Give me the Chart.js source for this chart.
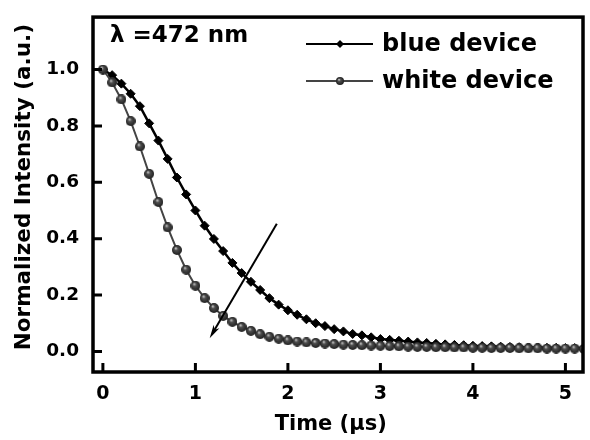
<!DOCTYPE html>
<html>
<head>
<meta charset="utf-8">
<script src="https://cdn.jsdelivr.net/npm/chart.js@4/dist/chart.umd.min.js"></script>
<style>
  html, body { margin: 0; padding: 0; background: #fff; }
  #wrap { width: 590px; height: 440px; }
</style>
</head>
<body>
<div id="wrap"><canvas id="decay"></canvas></div>
<script>
// ---- data --------------------------------------------------------------
const timeUs = [
  0.0, 0.1, 0.2, 0.3, 0.4, 0.5, 0.6, 0.7, 0.8, 0.9,
  1.0, 1.1, 1.2, 1.3, 1.4, 1.5, 1.6, 1.7, 1.8, 1.9,
  2.0, 2.1, 2.2, 2.3, 2.4, 2.5, 2.6, 2.7, 2.8, 2.9,
  3.0, 3.1, 3.2, 3.3, 3.4, 3.5, 3.6, 3.7, 3.8, 3.9,
  4.0, 4.1, 4.2, 4.3, 4.4, 4.5, 4.6, 4.7, 4.8, 4.9,
  5.0, 5.1, 5.2
];
const blueDevice = [
  1.000, 0.980, 0.950, 0.914, 0.870, 0.809, 0.748, 0.683, 0.617, 0.557,
  0.500, 0.446, 0.399, 0.356, 0.314, 0.278, 0.247, 0.218, 0.189, 0.166,
  0.146, 0.130, 0.114, 0.100, 0.090, 0.079, 0.071, 0.062, 0.057, 0.050,
  0.044, 0.041, 0.038, 0.035, 0.032, 0.030, 0.027, 0.025, 0.023, 0.022,
  0.020, 0.019, 0.018, 0.017, 0.016, 0.015, 0.014, 0.014, 0.013, 0.013,
  0.012, 0.012, 0.012
];
const whiteDevice = [
  1.000, 0.954, 0.894, 0.817, 0.727, 0.630, 0.530, 0.440, 0.360, 0.290,
  0.233, 0.189, 0.154, 0.126, 0.105, 0.087, 0.073, 0.061, 0.052, 0.045,
  0.039, 0.035, 0.032, 0.030, 0.028, 0.026, 0.024, 0.023, 0.022, 0.021,
  0.020, 0.019, 0.018, 0.017, 0.016, 0.016, 0.015, 0.015, 0.014, 0.014,
  0.013, 0.013, 0.012, 0.012, 0.012, 0.011, 0.011, 0.011, 0.010, 0.010,
  0.010, 0.010, 0.009
];
const seriesNames = ['blue device', 'white device'];
const annotationText = 'λ =472 nm';
// arrow in data units: [x0, y0] -> [x1, y1]
const arrowFrom = [1.88, 0.453];
const arrowTo   = [1.154, 0.047];

const FONT = "'DejaVu Sans', sans-serif";

// shaded sphere marker for the white device
function makeSphere(d) {
  const c = document.createElement('canvas');
  c.width = c.height = d;
  const g = c.getContext('2d');
  const r = d / 2;
  const grad = g.createRadialGradient(r * 0.75, r * 0.65, r * 0.1, r, r, r);
  grad.addColorStop(0, '#b8b8b8');
  grad.addColorStop(0.3, '#4e4e4e');
  grad.addColorStop(1, '#1e1e1e');
  g.fillStyle = grad;
  g.beginPath();
  g.arc(r, r, r, 0, Math.PI * 2);
  g.fill();
  return c;
}
const sphere = makeSphere(10);
const sphereSmall = makeSphere(8);

const toXY = (ys) => ys.map((y, i) => ({ x: timeUs[i], y }));

// frame, inward ticks, arrow, legend and label
const decoration = {
  id: 'decoration',
  afterDatasetsDraw(chart) {
    const { ctx, chartArea: a, scales: { x, y } } = chart;
    ctx.save();
    ctx.strokeStyle = '#000';
    ctx.lineWidth = 3.5;
    ctx.strokeRect(a.left, a.top, a.right - a.left, a.bottom - a.top);

    // inward ticks
    ctx.lineWidth = 3;
    ctx.beginPath();
    x.ticks.forEach(t => {
      const px = x.getPixelForValue(t.value);
      ctx.moveTo(px, a.bottom);
      ctx.lineTo(px, a.bottom - 9);
    });
    y.ticks.forEach(t => {
      const py = y.getPixelForValue(t.value);
      ctx.moveTo(a.left, py);
      ctx.lineTo(a.left + 9, py);
    });
    ctx.stroke();

    // arrow
    const x0 = x.getPixelForValue(arrowFrom[0]), y0 = y.getPixelForValue(arrowFrom[1]);
    const x1 = x.getPixelForValue(arrowTo[0]),   y1 = y.getPixelForValue(arrowTo[1]);
    const ang = Math.atan2(y1 - y0, x1 - x0);
    const hl = 14, hw = 0.24;
    ctx.lineWidth = 2;
    ctx.beginPath();
    ctx.moveTo(x0, y0);
    ctx.lineTo(x1 - Math.cos(ang) * 6, y1 - Math.sin(ang) * 6);
    ctx.stroke();
    ctx.fillStyle = '#000';
    ctx.beginPath();
    ctx.moveTo(x1, y1);
    ctx.lineTo(x1 - hl * Math.cos(ang - hw), y1 - hl * Math.sin(ang - hw));
    ctx.lineTo(x1 - hl * 0.7 * Math.cos(ang), y1 - hl * 0.7 * Math.sin(ang));
    ctx.lineTo(x1 - hl * Math.cos(ang + hw), y1 - hl * Math.sin(ang + hw));
    ctx.closePath();
    ctx.fill();

    // label
    ctx.fillStyle = '#000';
    ctx.font = "bold 23px " + FONT;
    ctx.textBaseline = 'middle';
    ctx.textAlign = 'left';
    ctx.fillText(annotationText, 110, 36);

    // legend
    const rows = [
      { y: 44, color: '#000', width: 2, mark: 'diamond' },
      { y: 81, color: '#444', width: 2, mark: 'sphere' }
    ];
    rows.forEach((r, i) => {
      ctx.strokeStyle = r.color;
      ctx.lineWidth = r.width;
      ctx.beginPath();
      ctx.moveTo(306, r.y);
      ctx.lineTo(373, r.y);
      ctx.stroke();
      if (r.mark === 'diamond') {
        ctx.fillStyle = '#000';
        ctx.beginPath();
        ctx.moveTo(340, r.y - 4);
        ctx.lineTo(344, r.y);
        ctx.lineTo(340, r.y + 4);
        ctx.lineTo(336, r.y);
        ctx.closePath();
        ctx.fill();
      } else {
        ctx.drawImage(sphereSmall, 340 - 4, r.y - 4, 8, 8);
      }
      ctx.fillStyle = '#000';
      ctx.font = "bold 24px " + FONT;
      ctx.fillText(seriesNames[i], 382, r.y + 1);
    });
    ctx.restore();
  }
};

new Chart(document.getElementById('decay'), {
  type: 'line',
  data: {
    datasets: [
      {
        label: seriesNames[0],
        data: toXY(blueDevice),
        borderColor: '#000',
        borderWidth: 2.5,
        pointStyle: 'rectRot',
        pointRadius: 4.5,
        pointBackgroundColor: '#000',
        pointBorderColor: '#000',
        pointBorderWidth: 1,
        order: 2
      },
      {
        label: seriesNames[1],
        data: toXY(whiteDevice),
        borderColor: '#444',
        borderWidth: 2,
        pointStyle: sphere,
        pointRadius: 5,
        order: 1
      }
    ]
  },
  options: {
    responsive: true,
    maintainAspectRatio: false,
    animation: false,
    events: [],
    layout: { padding: { left: 0, top: 10, right: 3, bottom: 0 } },
    plugins: { legend: { display: false }, tooltip: { enabled: false } },
    scales: {
      x: {
        type: 'linear',
        min: -0.107,
        max: 5.19,
        grid: { display: false },
        border: { display: false },
        ticks: {
          stepSize: 1,
          includeBounds: false,
          color: '#000',
          padding: 3,
          font: { family: FONT, size: 19, weight: 'bold' }
        },
        title: {
          display: true,
          text: 'Time (μs)  ',
          color: '#000',
          padding: { top: 0, bottom: 3 },
          font: { family: FONT, size: 21, weight: 'bold' }
        },
        afterFit(s) { s.height = 68; }
      },
      y: {
        min: -0.073,
        max: 1.186,
        grid: { display: false },
        border: { display: false },
        ticks: {
          stepSize: 0.2,
          includeBounds: false,
          color: '#000',
          padding: 6,
          font: { family: FONT, size: 18.5, weight: 'bold' },
          callback: (v) => v.toFixed(1)
        },
        title: {
          display: true,
          text: '  Normalized Intensity (a.u.)',
          color: '#000',
          padding: { top: 12, bottom: 0 },
          font: { family: FONT, size: 21.5, weight: 'bold' }
        },
        afterFit(s) { s.width = 93; }
      }
    }
  },
  plugins: [decoration]
});
</script>
</body>
</html>
